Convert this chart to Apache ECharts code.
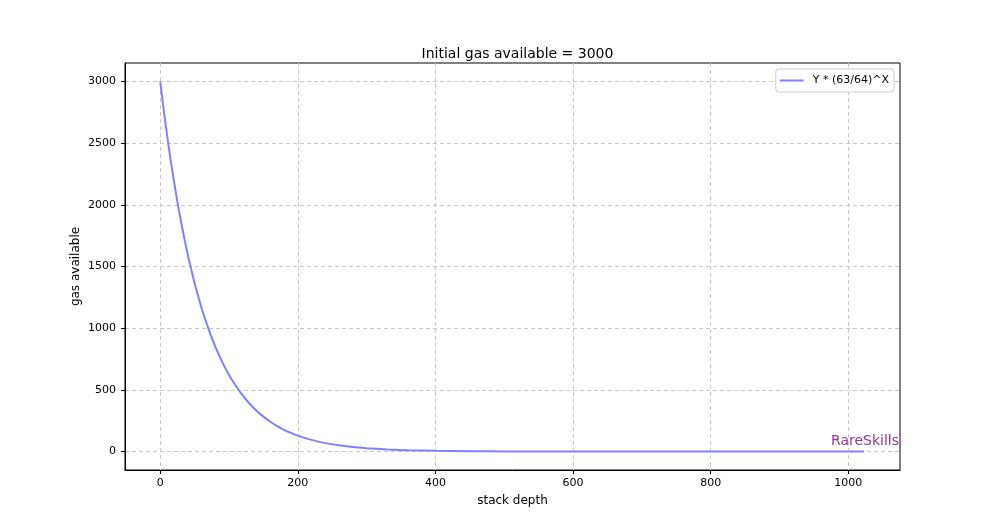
<!DOCTYPE html>
<html><head><meta charset="utf-8">
<script src="https://cdn.jsdelivr.net/npm/echarts@6/dist/echarts.min.js"></script>
<style>html,body{margin:0;padding:0;background:#fff}#c{width:1000px;height:528px}</style>
</head><body><div id="c"></div>
<script>
const depth = [0,5,10,15,20,25,30,35,40,45,50,55,60,65,70,75,80,85,90,95,100,110,120,130,140,150,160,170,180,190,200,220,240,260,280,300,330,360,400,450,500,600,700,800,900,1023];
const gas = [3000,2772,2563,2369,2190,2024,1871,1729,1598,1477,1365,1262,1166,1078,996,921,851,787,727,672,621,531,453,387,331,283,241,206,176,151,129,94,68,50,36,27,17,10,6,3,1,0,0,0,0,0];
const xTicks = [0,200,400,600,800,1000];
const yTicks = [0,500,1000,1500,2000,2500,3000];
const seriesName = 'Y * (63/64)^X';
const titleText = 'Initial gas available = 3000';
const xName = 'stack depth';
const yName = 'gas available';
const watermark = 'RareSkills';

const font = 'DejaVu Sans';
const chart = echarts.init(document.getElementById('c'), null, {renderer:'canvas'});
chart.setOption({
  animation:false,
  backgroundColor:'#fff',
  title:{text:titleText,left:512.5,textAlign:'center',top:42,textStyle:{fontFamily:font,fontSize:14,fontWeight:'normal',color:'#000'}},
  legend:{data:[seriesName],right:106,top:69,orient:'vertical',icon:'rect',backgroundColor:'#fff',borderColor:'#ccc',borderWidth:1,borderRadius:3,padding:[6,5,6,4],itemWidth:24,itemHeight:2,itemGap:4,
    textStyle:{fontFamily:font,fontSize:11,color:'#000',padding:[0,0,0,4]}},
  grid:{left:125,right:100,top:63,bottom:58,show:true,borderColor:'#000',borderWidth:1,backgroundColor:'transparent'},
  xAxis:{type:'value',min:-51.2,max:1075.2,name:xName,nameLocation:'middle',nameGap:25,
    nameTextStyle:{fontFamily:font,fontSize:12,color:'#000'},
    axisLine:{show:true,onZero:false,lineStyle:{color:'#000',width:1}},
    axisTick:{show:true,length:4,customValues:xTicks,lineStyle:{color:'#000'}},
    axisLabel:{customValues:xTicks,formatter:v=>String(v),fontFamily:font,fontSize:11,color:'#000',margin:8},
    splitLine:{show:true,lineStyle:{color:'#c8c8c8',type:[4,3],width:1}}},
  yAxis:{type:'value',min:-150,max:3150,name:yName,nameLocation:'middle',nameGap:43,nameMoveOverlap:false,nameRotate:90,
    nameTextStyle:{fontFamily:font,fontSize:12,color:'#000'},
    axisLine:{show:true,onZero:false,lineStyle:{color:'#000',width:1}},
    axisTick:{show:true,length:4,customValues:yTicks,lineStyle:{color:'#000'}},
    axisLabel:{customValues:yTicks,formatter:v=>String(v),fontFamily:font,fontSize:11,color:'#000',margin:9},
    splitLine:{show:true,lineStyle:{color:'#c8c8c8',type:[4,3],width:1}}},
  graphic:[{type:'text',right:101,top:434,style:{text:watermark,fontFamily:font,fontSize:14,fill:'rgba(128,0,128,0.8)'}}],
  series:[{name:seriesName,type:'line',data:depth.map((d,i)=>[d,gas[i]]),symbol:'none',smooth:0.3,
    lineStyle:{color:'#8080ff',width:2},itemStyle:{color:'#8080ff'}}]
});
</script></body></html>
